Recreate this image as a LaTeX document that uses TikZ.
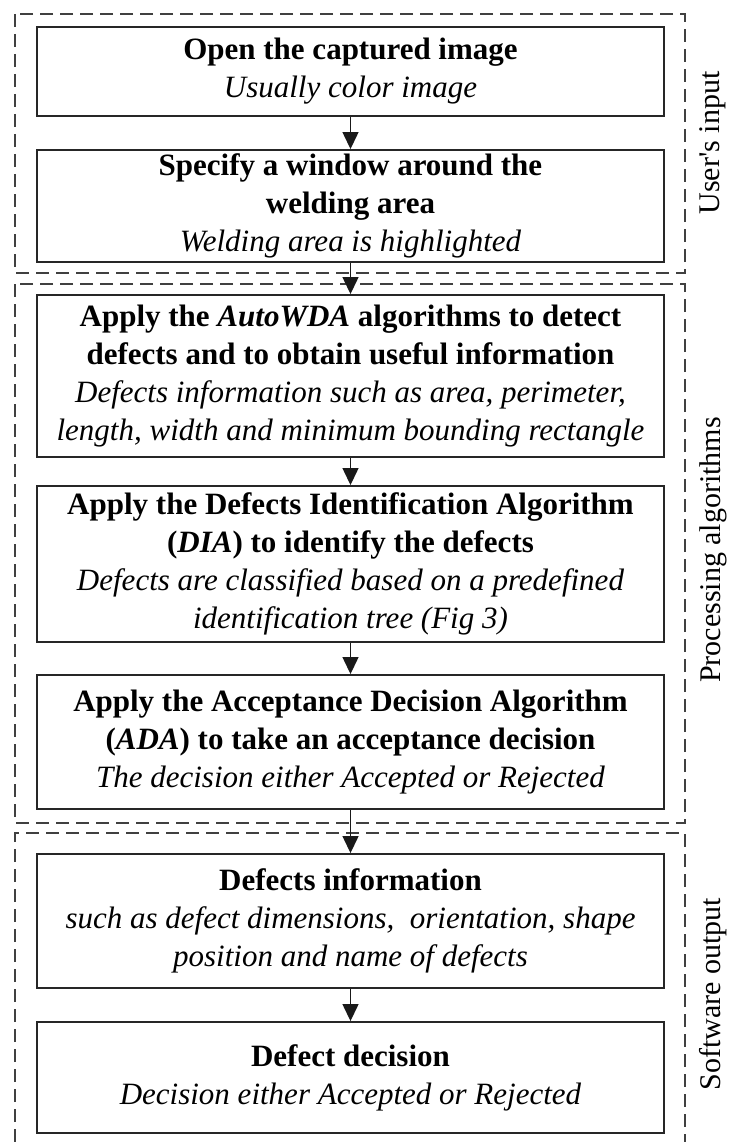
\documentclass[tikz,border=0pt]{standalone}
\usepackage{fontspec}
\setmainfont{Liberation Serif}
\usetikzlibrary{arrows.meta}
\begin{document}
\begin{tikzpicture}[x=1pt,y=-1pt,
  stepbox/.style={draw=black!85, line width=1.9pt, minimum width=627pt,
    align=center, inner sep=0pt, text=black,
    font=\fontsize{31}{38}\selectfont},
  grp/.style={draw=black!75, line width=1.4pt, dash pattern=on 13pt off 7pt},
  flow/.style={draw=black!90, line width=1.3pt,
    -{Triangle[length=17pt,width=16pt]}},
  side/.style={rotate=90, text=black, font=\fontsize{30}{36}\selectfont}]
\useasboundingbox (0,0) rectangle (730,1142);

% phase frames
\draw[grp] (15,14) rectangle (685,273);
\draw[grp] (15,284) rectangle (685,823);
\draw[grp] (15,1142) -- (15,833) -- (685,833) -- (685,1142);

% phase labels
\node[side] (lin) at (713,143) {User\textquotesingle s input};
\node[side] (lproc) at (713,550) {Processing algorithms};
\node[side] (lout) at (713,994) {Software output};

% steps
\node[stepbox, minimum height=89pt] (b1) at (350.5,71.5)
  {\textbf{Open the captured image}\\ \textit{Usually color image}};
\node[stepbox, minimum height=112pt] (b2) at (350.5,206)
  {\textbf{Specify a window around the}\\ \textbf{welding area}\\
   \textit{Welding area is highlighted}};
\node[stepbox, minimum height=162pt] (b3) at (350.5,376)
  {\textbf{Apply the \textit{AutoWDA} algorithms to detect}\\
   \textbf{defects and to obtain useful information}\\
   \textit{Defects information such as area, perimeter,}\\
   \textit{length, width and minimum bounding rectangle}};
\node[stepbox, minimum height=156pt] (b4) at (350.5,564)
  {\textbf{Apply the Defects Identification Algorithm}\\
   \textbf{(\textit{DIA}) to identify the defects}\\
   \textit{Defects are classified based on a predefined}\\
   \textit{identification tree (Fig 3)}};
\node[stepbox, minimum height=134pt] (b5) at (350.5,742)
  {\textbf{Apply the Acceptance Decision Algorithm}\\
   \textbf{(\textit{ADA}) to take an acceptance decision}\\
   \textit{The decision either Accepted or Rejected}};
\node[stepbox, minimum height=134pt] (b6) at (350.5,921)
  {\textbf{Defects information}\\
   \textit{such as defect dimensions,\ \ orientation, shape}\\
   \textit{position and name of defects}};
\node[stepbox, minimum height=111pt] (b7) at (350.5,1077.5)
  {\textbf{Defect decision}\\ \textit{Decision either Accepted or Rejected}};

% flow
\draw[flow] (b1.south) -- (b2.north);
\draw[flow] (b2.south) -- (b3.north);
\draw[flow] (b3.south) -- (b4.north);
\draw[flow] (b4.south) -- (b5.north);
\draw[flow] (b5.south) -- (b6.north);
\draw[flow] (b6.south) -- (b7.north);
\end{tikzpicture}
\end{document}
